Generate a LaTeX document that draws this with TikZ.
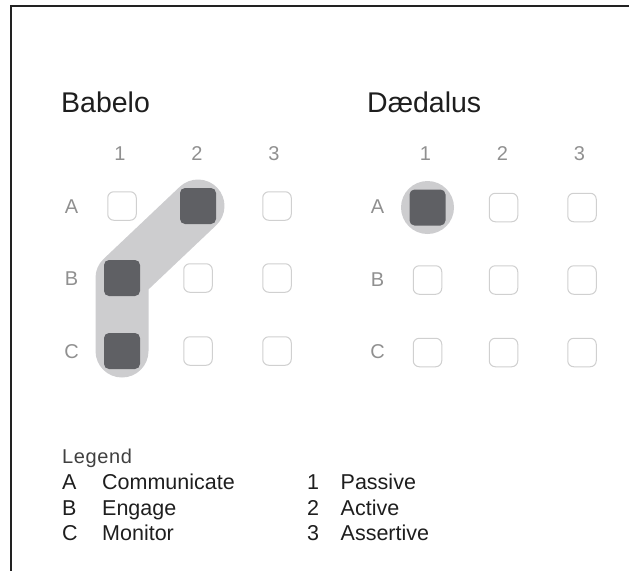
\documentclass[tikz,border=0pt]{standalone}
\usepackage{fontspec}
\setmainfont{Liberation Sans}
\definecolor{frame}{HTML}{222222}
\definecolor{filled}{HTML}{5F6064}
\definecolor{halo}{HTML}{CDCDCF}
\definecolor{boxline}{HTML}{D0D0D0}
\definecolor{lab}{HTML}{909090}
\definecolor{txt}{HTML}{1E1E1E}
\tikzset{
  emptybox/.style={draw=boxline, line width=1pt, rounded corners=6pt, minimum width=28.5pt, minimum height=28.5pt, inner sep=0pt},
  fullbox/.style={fill=filled, rounded corners=5pt, minimum width=36pt, minimum height=36pt, inner sep=0pt},
  gridlab/.style={text=lab, font=\fontsize{20}{22}\selectfont, anchor=base, inner sep=0pt},
  title/.style={text=txt, font=\fontsize{28.5}{32}\selectfont, anchor=base west, inner sep=0pt},
  legtxt/.style={text=txt, font=\fontsize{21.5}{24}\selectfont, anchor=base west, inner sep=0pt},
  leghead/.style={text=txt!85, font=\fontsize{20}{22}\selectfont\addfontfeature{LetterSpace=3}, anchor=base west, inner sep=0pt},
  halopath/.style={draw=halo, line width=53pt, line cap=round, line join=round},
}
\begin{document}
\begin{tikzpicture}[x=1pt,y=-1pt]
\useasboundingbox (0,0) rectangle (629,571);
% frame
\coordinate (fr1) at (629,6);
\coordinate (fr2) at (11,6);
\coordinate (fr3) at (11,571);
\draw[frame, line width=1.5pt] (fr1) -- (fr2) -- (fr3);

% titles
\node[title] (tb) at (61,112) {Babelo};
\node[title] (td) at (367,112) {Dædalus};

% ---------- Babelo grid positions ----------
\foreach \c/\x in {1/122,2/198,3/277}{
  \foreach \r/\y in {A/206,B/278,C/351}{
    \coordinate (bp-\r\c) at (\x,\y);
  }
}
% ---------- Daedalus grid positions ----------
\foreach \c/\x in {1/427.5,2/503.5,3/582}{
  \foreach \r/\y in {A/207.5,B/280,C/352.5}{
    \coordinate (dp-\r\c) at (\x,\y);
  }
}

% highlights
\draw[halopath] (bp-C1) -- (bp-B1) -- (bp-A2);
\fill[halo] (dp-A1) circle[radius=26.5];

% Babelo column and row labels
\node[gridlab] (bc1) at (120,160.5) {1};
\node[gridlab] (bc2) at (197,160.5) {2};
\node[gridlab] (bc3) at (274,160.5) {3};
\node[gridlab] (brA) at (71.5,213.5) {A};
\node[gridlab] (brB) at (71.5,285) {B};
\node[gridlab] (brC) at (71.5,358) {C};

% Babelo boxes
\node[emptybox] (b-A1) at (bp-A1) {};
\node[fullbox]  (b-A2) at (bp-A2) {};
\node[emptybox] (b-A3) at (bp-A3) {};
\node[fullbox]  (b-B1) at (bp-B1) {};
\node[emptybox] (b-B2) at (bp-B2) {};
\node[emptybox] (b-B3) at (bp-B3) {};
\node[fullbox]  (b-C1) at (bp-C1) {};
\node[emptybox] (b-C2) at (bp-C2) {};
\node[emptybox] (b-C3) at (bp-C3) {};

% Daedalus column and row labels
\node[gridlab] (dc1) at (425.5,160.5) {1};
\node[gridlab] (dc2) at (502.5,160.5) {2};
\node[gridlab] (dc3) at (579.5,160.5) {3};
\node[gridlab] (drA) at (377.5,213) {A};
\node[gridlab] (drB) at (377.5,286) {B};
\node[gridlab] (drC) at (377.5,358.5) {C};

% Daedalus boxes
\node[fullbox]  (d-A1) at (dp-A1) {};
\node[emptybox] (d-A2) at (dp-A2) {};
\node[emptybox] (d-A3) at (dp-A3) {};
\node[emptybox] (d-B1) at (dp-B1) {};
\node[emptybox] (d-B2) at (dp-B2) {};
\node[emptybox] (d-B3) at (dp-B3) {};
\node[emptybox] (d-C1) at (dp-C1) {};
\node[emptybox] (d-C2) at (dp-C2) {};
\node[emptybox] (d-C3) at (dp-C3) {};

% legend
\node[leghead] (lh) at (62,463) {Legend};
\node[legtxt] (lA) at (62,489) {A};
\node[legtxt] (lAt) at (102,489) {Communicate};
\node[legtxt] (lB) at (62,515) {B};
\node[legtxt] (lBt) at (102,515) {Engage};
\node[legtxt] (lC) at (62,540.5) {C};
\node[legtxt] (lCt) at (102,540.5) {Monitor};
\node[legtxt] (l1) at (307,489) {1};
\node[legtxt] (l1t) at (340.5,489) {Passive};
\node[legtxt] (l2) at (307,515) {2};
\node[legtxt] (l2t) at (340.5,515) {Active};
\node[legtxt] (l3) at (307,540.5) {3};
\node[legtxt] (l3t) at (340.5,540.5) {Assertive};
\end{tikzpicture}
\end{document}
